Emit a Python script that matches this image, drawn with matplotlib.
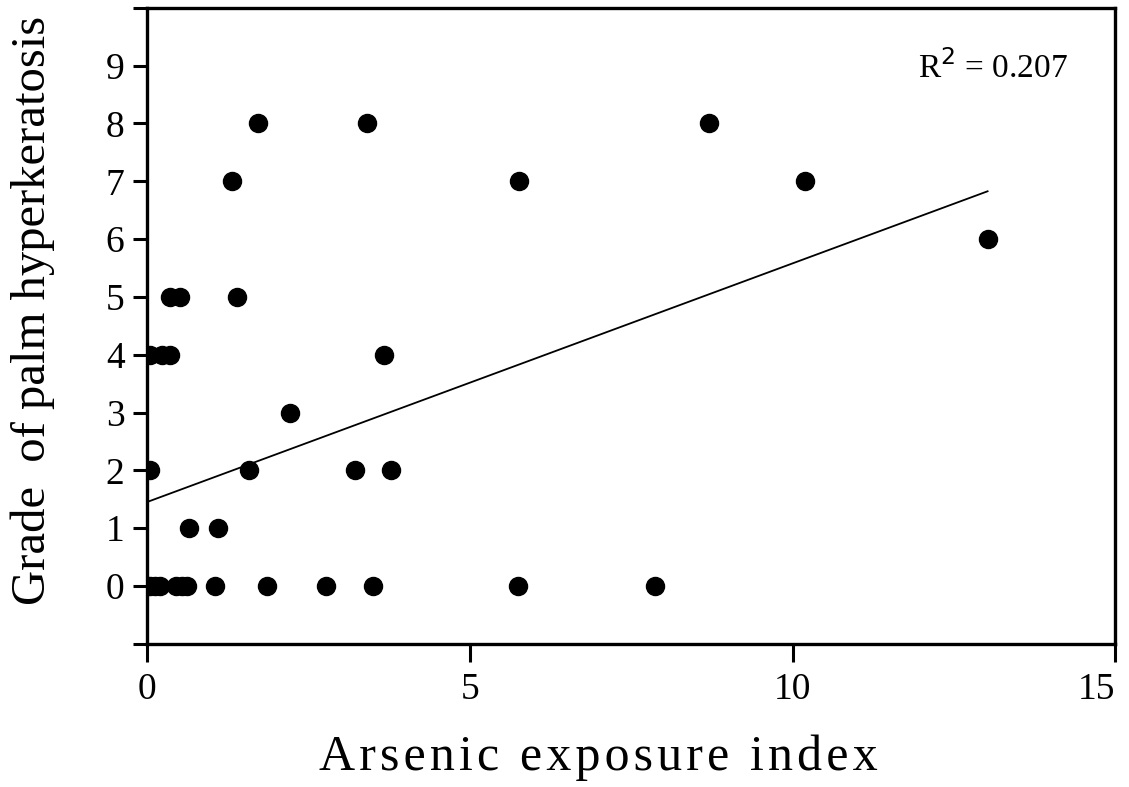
import matplotlib

matplotlib.use("Agg")
import matplotlib.pyplot as plt
import numpy as np

# arsenic exposure index vs grade of palm hyperkeratosis
exposure = [
    1.72, 3.41, 8.70,
    1.32, 5.76, 10.19,
    13.02,
    0.36, 0.52, 1.40,
    0.05, 0.23, 0.36, 3.68,
    2.22,
    0.05, 1.59, 3.22, 3.78,
    0.65, 1.10,
    0.0, 0.05, 0.12, 0.2, 0.46, 0.55, 0.62, 1.05, 1.86, 2.78, 3.5, 5.75, 7.87,
]
grade = [
    8, 8, 8,
    7, 7, 7,
    6,
    5, 5, 5,
    4, 4, 4, 4,
    3,
    2, 2, 2, 2,
    1, 1,
    0, 0, 0, 0, 0, 0, 0, 0, 0, 0, 0, 0, 0,
]
fit_intercept = 1.45
fit_slope = 0.413
r_squared = 0.207

x_ticks = [0, 5, 10, 15]
y_ticks = list(range(-1, 11))
y_labels = [str(v) if 0 <= v <= 9 else "" for v in y_ticks]

plt.rcParams["font.family"] = ["Liberation Serif", "DejaVu Serif"]

fig = plt.figure(figsize=(11.29, 7.87), dpi=100)
ax = fig.add_axes([0.130, 0.182, 0.858, 0.808])

ax.plot(exposure, grade, "o", color="black", markersize=13, linestyle="none")

xs = np.array([0.0, max(exposure)])
ax.plot(xs, fit_intercept + fit_slope * xs, color="black", linewidth=1.3)

ax.set_xlim(0, 15)
ax.set_ylim(-1, 10)
ax.set_xticks(x_ticks)
ax.set_xticklabels([str(v) for v in x_ticks])
ax.set_yticks(y_ticks)
ax.set_yticklabels(y_labels)
ax.tick_params(axis="both", direction="out", width=2.2, labelsize=27)
ax.tick_params(axis="y", length=10, pad=6)
ax.tick_params(axis="x", length=13, pad=8)
ax.get_xticklabels()[-1].set_horizontalalignment("right")
for spine in ax.spines.values():
    spine.set_linewidth(2.4)

# the original label is letter-spaced; hair spaces give a similar look
xlabel = "\u200a".join("Arsenic exposure index")
ax.set_xlabel(xlabel, fontsize=36)
ax.xaxis.set_label_coords(0.466, -0.18)
ax.xaxis.label.set_verticalalignment("center")
ax.set_ylabel("Grade  of palm hyperkeratosis", fontsize=35)
ax.yaxis.set_label_coords(-0.118, 0.524)
ax.yaxis.label.set_verticalalignment("center")

ax.text(0.951, 0.906, f"R$^2$ = {r_squared:.3f}", transform=ax.transAxes,
        ha="right", va="center", fontsize=24)

fig.savefig("out.png")
plt.close(fig)
